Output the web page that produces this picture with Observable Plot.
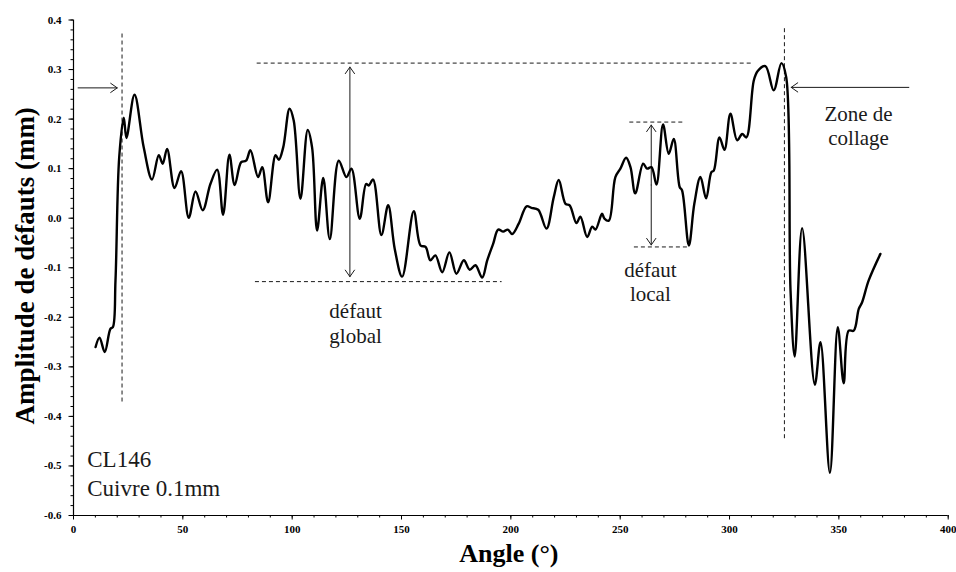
<!DOCTYPE html>
<html><head><meta charset="utf-8">
<script src="https://cdn.jsdelivr.net/npm/d3@7"></script>
<script src="https://cdn.jsdelivr.net/npm/@observablehq/plot@0.6"></script>
<style>body{margin:0;background:#fff}#chart svg{display:block}</style>
</head><body><div id="chart"></div>
<script>
// ---- data (angle in degrees, amplitude in mm) ----
const angle = [10.1,11.9,14.3,16.9,18.0,19.2,20.9,23.0,24.2,27.9,32.1,35.9,39.0,40.8,42.8,46.2,49.2,52.7,55.8,59.1,62.6,65.7,68.4,71.3,73.7,76.7,78.9,80.9,84.4,86.3,89.0,92.4,93.9,95.9,98.8,100.7,103.8,107.1,109.1,111.4,114.2,117.2,121.3,124.8,127.1,130.9,133.8,135.0,137.0,140.8,143.9,146.9,150.3,155.6,158.7,161.0,163.2,165.5,168.6,171.9,175.1,178.5,181.2,183.8,186.9,189.2,191.9,194.2,196.5,198.6,200.6,203.6,207.2,209.4,212.5,216.3,219.6,221.9,225.0,226.9,230.0,231.8,234.9,237.2,238.7,241.7,242.8,244.8,247.8,250.1,252.7,254.7,256.9,260.5,262.3,264.3,266.6,269.6,272.2,274.5,277.2,278.3,281.4,283.9,286.7,289.3,291.7,292.8,295.4,297.7,300.4,303.5,305.8,307.7,311.1,312.9,316.4,320.2,323.7,325.9,327.9,329.8,333.2,339.0,341.6,345.9,349.5,352.2,354.5,356.8,359.1,360.6,363.6,369.0];
const amplitude = [-0.260,-0.241,-0.270,-0.223,-0.220,-0.126,0.123,0.203,0.162,0.249,0.143,0.078,0.127,0.110,0.140,0.061,0.095,0.001,0.054,0.016,0.069,0.098,0.007,0.128,0.067,0.113,0.116,0.137,0.083,0.103,0.032,0.127,0.118,0.143,0.221,0.197,0.039,0.178,0.143,-0.025,0.081,-0.042,0.116,0.083,0.100,-0.001,0.069,0.066,0.078,-0.034,0.026,-0.062,-0.118,0.014,-0.055,-0.058,-0.085,-0.075,-0.109,-0.069,-0.112,-0.085,-0.104,-0.095,-0.120,-0.085,-0.052,-0.023,-0.027,-0.023,-0.032,-0.011,0.024,0.021,0.017,-0.021,0.042,0.077,0.029,0.026,-0.010,0.003,-0.038,-0.017,-0.023,0.009,-0.001,-0.005,0.083,0.100,0.122,0.103,0.050,0.110,0.100,0.103,0.068,0.189,0.130,0.160,0.063,0.056,-0.055,0.029,0.083,0.040,0.093,0.096,0.163,0.138,0.211,0.157,0.170,0.163,0.278,0.297,0.307,0.258,0.313,0.285,-0.146,-0.279,-0.020,-0.336,-0.250,-0.514,-0.220,-0.333,-0.227,-0.227,-0.183,-0.170,-0.126,-0.072];

// ---- ticks ----
const xTicks = [0,50,100,150,200,250,300,350,400];
const xMinorTicks = d3.range(0, 401, 10);
const yTicks = [-0.6,-0.5,-0.4,-0.3,-0.2,-0.1,0.0,0.1,0.2,0.3,0.4];
const yMinorTicks = d3.range(-30, 21).map(i => i / 50);

// ---- labels ----
const xLabel = "Angle (°)";
const yLabel = "Amplitude de défauts (mm)";

// ---- annotations (data units) ----
const zoneLines = [{x: 22.2, y1: -0.371, y2: 0.375}, {x: 325.1, y1: -0.445, y2: 0.387}];
const levelLines = [
  {y: 0.313, x1: 84.0, x2: 310.3}, {y: -0.128, x1: 83.2, x2: 196.0},
  {y: 0.194, x1: 254.4, x2: 279.1}, {y: -0.058, x1: 256.5, x2: 281.4}
];
const spans = [{x: 126.4, y1: -0.118, y2: 0.305}, {x: 264.2, y1: -0.054, y2: 0.188}];
const zoneArrows = [{x1: 2.1, x2: 20.0, y: 0.263}, {x1: 382.0, x2: 328.2, y: 0.264}];
const notes = [
  {x: 129.0, y: -0.251, text: "défaut\nglobal"},
  {x: 263.8, y: -0.168, text: "défaut\nlocal"},
  {x: 359.0, y: 0.147, text: "Zone de\ncollage"}
];
const sample = [{x: 6.3, y: -0.560, text: "CL146\nCuivre 0.1mm"}];

const spanArrows = spans.flatMap(s => {
  const m = (s.y1 + s.y2) / 2;
  return [{x: s.x, y1: m, y2: s.y2}, {x: s.x, y1: m, y2: s.y1}];
});

const ink = "#1a1a1a";
const chart = Plot.plot({
  width: 956,
  height: 572,
  marginLeft: 73,
  marginRight: 8.3,
  marginTop: 19.5,
  marginBottom: 57,
  style: {fontFamily: "'Liberation Serif', 'Times New Roman', serif", background: "#fff", color: "#000"},
  x: {domain: [0, 400]},
  y: {domain: [-0.6, 0.4]},
  marks: [
    Plot.axisX({ticks: xMinorTicks, tickSize: 2.5, tickFormat: () => "", label: null, strokeWidth: 1}),
    Plot.axisX({ticks: xTicks, tickSize: 4.5, tickPadding: 5.5, fontSize: 11, fontWeight: "bold", tickFormat: d => String(d), label: null, strokeWidth: 1}),
    Plot.axisY({ticks: yMinorTicks, tickSize: 2.5, tickFormat: () => "", label: null, strokeWidth: 1}),
    Plot.axisY({ticks: yTicks, tickSize: 4.5, tickPadding: 7.5, fontSize: 11, fontWeight: "bold", tickFormat: d => d.toFixed(1), label: null, strokeWidth: 1}),
    Plot.ruleX([0], {stroke: "#000", strokeWidth: 1.2}),
    Plot.ruleY([-0.6], {stroke: "#000", strokeWidth: 1.2}),
    // guides
    Plot.ruleX(zoneLines, {x: "x", y1: "y1", y2: "y2", stroke: ink, strokeWidth: 1, strokeDasharray: "4,3"}),
    Plot.ruleY(levelLines, {y: "y", x1: "x1", x2: "x2", stroke: ink, strokeWidth: 1, strokeDasharray: "4,3"}),
    Plot.arrow(spanArrows, {x1: "x", x2: "x", y1: "y1", y2: "y2", stroke: ink, strokeWidth: 1, headLength: 12, headAngle: 70}),
    Plot.arrow(zoneArrows, {x1: "x1", x2: "x2", y1: "y", y2: "y", stroke: ink, strokeWidth: 1, headLength: 12, headAngle: 70}),
    // curve
    Plot.line(angle, {x: angle, y: amplitude, curve: "catmull-rom", stroke: "#000", strokeWidth: 2.4}),
    // texts
    Plot.text(notes, {x: "x", y: "y", text: "text", lineAnchor: "bottom", lineHeight: 1.18, fontSize: 21, fill: ink, textAnchor: "middle"}),
    Plot.text(sample, {x: "x", y: "y", text: "text", lineAnchor: "bottom", lineHeight: 1.25, fontSize: 23, fill: ink, textAnchor: "start"}),
    Plot.text([xLabel], {frameAnchor: "bottom", lineAnchor: "bottom", textAnchor: "middle", dy: 46, dx: -2, fontSize: 26, fontWeight: "bold", fill: "#000"}),
    Plot.text([yLabel], {frameAnchor: "left", lineAnchor: "bottom", textAnchor: "middle", rotate: -90, dx: -40, dy: -2, fontSize: 27, fontWeight: "bold", fill: "#000"})
  ]
});
document.getElementById("chart").appendChild(chart);
</script>
</body></html>
